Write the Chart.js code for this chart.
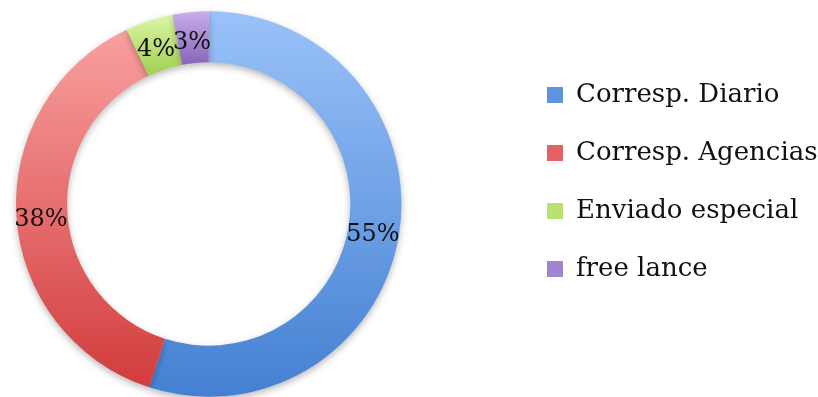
<!DOCTYPE html>
<html>
<head>
<meta charset="utf-8">
<script src="https://cdn.jsdelivr.net/npm/chart.js@4"></script>
<style>
  html, body { margin: 0; padding: 0; background: #fff; }
  #wrap { width: 818px; height: 397px; }
</style>
</head>
<body>
<div id="wrap"><canvas id="shareChart"></canvas></div>
<script>
const categories = ['Corresp. Diario', 'Corresp. Agencias', 'Enviado especial', 'free lance'];
const shares = [55, 38, 4, 3];
const lightColors = ['#9ac2f9', '#f9a0a0', '#dbf7a6', '#c8aeea'];
const darkColors = ['#4480d2', '#d23c3c', '#a2cd4e', '#8764bb'];
const legendColors = ['#5f92df', '#e26262', '#b9e070', '#a283cf'];
const CUTOUT = 0.735;

// vertical gradient over the bounding box of each slice
function sliceFill(context) {
  const i = context.dataIndex;
  const chart = context.chart;
  const area = chart.chartArea;
  if (!area || i === undefined) return lightColors[i] || '#ccc';
  const cx = (area.left + area.right) / 2;
  const cy = (area.top + area.bottom) / 2;
  const outer = Math.min(area.width, area.height) / 2;
  const inner = outer * CUTOUT;
  const total = shares.reduce((a, b) => a + b, 0);
  let before = 0;
  for (let k = 0; k < i; k++) before += shares[k];
  const a0 = -Math.PI / 2 + 2 * Math.PI * before / total;
  const a1 = a0 + 2 * Math.PI * shares[i] / total;
  let yMin = Infinity, yMax = -Infinity;
  for (let s = 0; s <= 60; s++) {
    const a = a0 + (a1 - a0) * s / 60;
    [outer, inner].forEach(r => {
      const y = cy + r * Math.sin(a);
      yMin = Math.min(yMin, y);
      yMax = Math.max(yMax, y);
    });
  }
  const g = chart.ctx.createLinearGradient(0, yMin, 0, yMax);
  g.addColorStop(0, lightColors[i]);
  g.addColorStop(1, darkColors[i]);
  return g;
}

const ringShadow = {
  id: 'ringShadow',
  beforeDatasetsDraw(chart) {
    const ctx = chart.ctx;
    ctx.save();
    ctx.shadowColor = 'rgba(0, 0, 0, 0.28)';
    ctx.shadowBlur = 7;
    ctx.shadowOffsetY = 3;
  },
  afterDatasetsDraw(chart) {
    chart.ctx.restore();
  }
};

const sliceLabels = {
  id: 'sliceLabels',
  afterDatasetsDraw(chart) {
    const ctx = chart.ctx;
    const meta = chart.getDatasetMeta(0);
    ctx.save();
    ctx.font = '24px "DejaVu Serif"';
    ctx.fillStyle = '#111';
    ctx.textAlign = 'center';
    ctx.textBaseline = 'middle';
    meta.data.forEach((arc, index) => {
      const pos = arc.tooltipPosition();
      ctx.fillText(shares[index] + '%', pos.x - 1, pos.y + 5);
    });
    ctx.restore();
  }
};

// move the legend block to the right side, next to the ring
const legendPlace = {
  id: 'legendPlace',
  afterLayout(chart) {
    const legend = chart.legend;
    const pad = chart.options.plugins.legend.labels.padding;
    const dx = 547 - (legend.left + pad);
    legend.left += dx;
    legend.right += dx;
    const top = 82 - pad;
    legend.bottom = top + (legend.bottom - legend.top);
    legend.top = top;
  }
};

const ctx = document.getElementById('shareChart').getContext('2d');

const data = {
  labels: categories,
  datasets: [{
    data: shares,
    backgroundColor: sliceFill,
    borderWidth: 0,
    hoverOffset: 0
  }]
};

const options = {
  responsive: true,
  maintainAspectRatio: false,
  animation: false,
  cutout: (CUTOUT * 100) + '%',
  layout: {
    padding: { top: 11, bottom: 0, left: 16, right: 104 }
  },
  plugins: {
    tooltip: { enabled: false },
    legend: {
      position: 'right',
      align: 'start',
      labels: {
        boxWidth: 16,
        boxHeight: 16,
        padding: 32,
        color: '#111',
        font: { family: '"DejaVu Serif"', size: 26 },
        generateLabels: function (chart) {
          const items = Chart.overrides.doughnut.plugins.legend.labels.generateLabels(chart);
          items.forEach((item, i) => {
            item.fillStyle = legendColors[i];
            item.strokeStyle = legendColors[i];
            item.lineWidth = 0;
          });
          return items;
        }
      }
    }
  }
};

new Chart(ctx, {
  type: 'doughnut',
  data: data,
  options: options,
  plugins: [ringShadow, sliceLabels, legendPlace]
});
</script>
</body>
</html>
